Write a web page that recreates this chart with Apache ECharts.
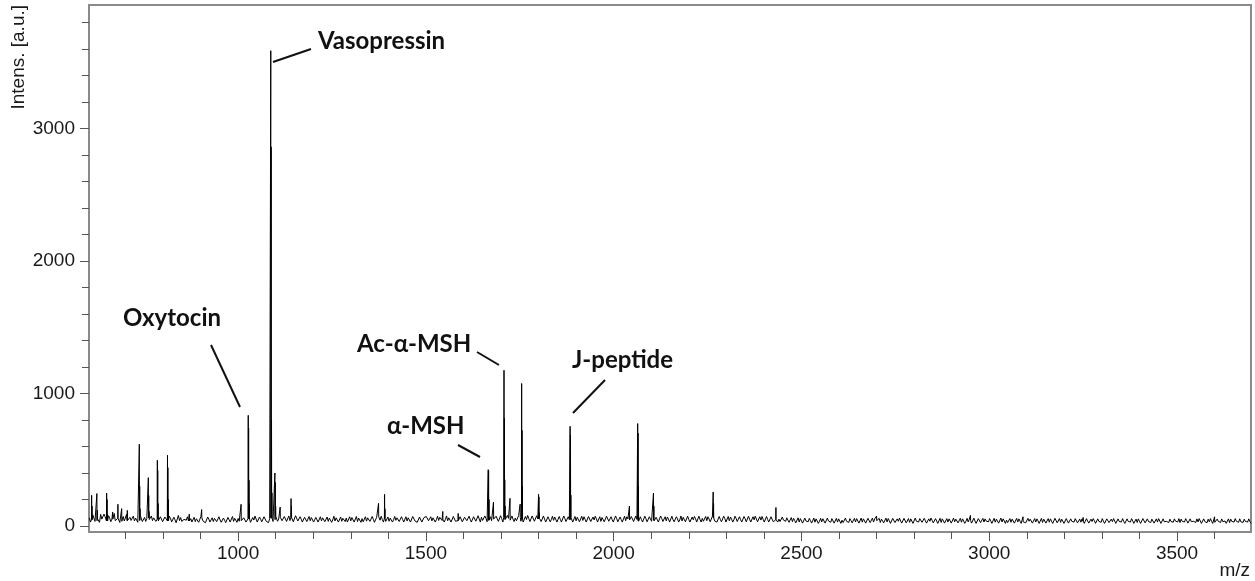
<!DOCTYPE html>
<html>
<head>
<meta charset="utf-8">
<script src="https://cdn.jsdelivr.net/npm/echarts@6/dist/echarts.min.js"></script>
<style>
html,body{margin:0;padding:0;background:#fff;}
#chart{width:1255px;height:581px;}
</style>
</head>
<body>
<div id="chart"></div>
<script>
// ---- data ----
const xLabelValues = [1000, 1500, 2000, 2500, 3000, 3500];
const xMinorTicks = [700, 800, 900, 1100, 1200, 1300, 1400, 1600, 1700, 1800, 1900, 2100, 2200, 2300, 2400, 2600, 2700, 2800, 2900, 3100, 3200, 3300, 3400, 3600];
const yLabelValues = [0, 1000, 2000, 3000];
const yMinorTicks = [200, 400, 600, 800, 1200, 1400, 1600, 1800, 2200, 2400, 2600, 2800, 3200, 3400, 3600, 3800];

// baseline noise, sampled every 6 m/z starting at 604 ...
const noiseStart = 604;
const noiseStep = 6;
const noiseIntens = [
  62, 48, 75, 40, 55, 88, 45, 70, 38, 60, 52, 95, 44, 58, 36, 72, 50, 41, 66, 47,
  39, 57, 43, 80, 46, 35, 62, 49, 41, 70, 52, 38, 55, 44, 63, 40, 58, 36, 47, 53,
  41, 35, 50, 44, 38, 56, 42, 33, 47, 39, 61, 45, 37, 52, 43, 34, 58, 40, 46, 36,
  44, 38, 53, 41, 35, 49, 57, 40, 36, 48, 42, 55, 39, 45, 62, 37, 51, 43, 58, 47,
  55, 60, 48, 72, 52, 65, 44, 58, 50, 41, 63, 46, 70, 43, 52, 38, 56, 45, 40, 49,
  37, 53, 44, 39, 58, 42, 35, 50, 46, 38, 55, 41, 36, 48, 60, 43, 39, 52, 45, 34,
  47, 56, 40, 37, 62, 45, 51, 38, 70, 44, 49, 58, 41, 36, 54, 47, 43, 60, 39, 50,
  45, 38, 57, 42, 64, 47, 40, 53, 36, 49, 68, 44, 39, 56, 48, 42, 75, 46, 51, 40,
  58, 44, 62, 49, 41, 55, 47, 72, 43, 50, 38, 60, 45, 53, 66, 48, 57, 44, 70, 52,
  48, 62, 45, 55, 68, 50, 58, 44, 52, 60, 47, 65, 53, 42, 49, 56, 44, 61, 47, 53,
  58, 46, 52, 40, 55, 48, 43, 60, 38, 50, 45, 57, 41, 48, 62, 44, 39, 54, 47, 42,
  50, 43, 58, 38, 46, 55, 41, 35, 52, 44, 60, 39, 47, 42, 56, 37, 49, 45, 40, 53,
  46, 58, 42, 50, 37, 48, 44, 55, 40, 62, 45, 38, 51, 43, 57, 46, 39, 52, 44, 48,
  41, 54, 46, 38, 60, 43, 50, 37, 47, 55, 42, 49, 58, 44, 40, 53, 45, 62, 48, 43,
  50, 41, 56, 45, 39, 52, 46, 58, 42, 48, 37, 55, 44, 50, 40, 47, 53, 38, 45, 51,
  43, 49, 38, 55, 42, 47, 52, 40, 45, 36, 44, 39, 33, 41, 37, 30, 42, 35, 38, 32,
  40, 34, 29, 43, 36, 31, 46, 33, 38, 28, 41, 35, 30, 39, 44, 32, 36, 27, 40, 34,
  31, 42, 35, 29, 38, 33, 48, 36, 30, 40, 34, 27, 43, 37, 31, 39, 35, 45, 29, 36,
  38, 32, 44, 35, 28, 41, 33, 37, 30, 46, 34, 39, 29, 36, 42, 31, 38, 33, 27, 40,
  35, 30, 43, 37, 32, 48, 34, 29, 39, 36, 31, 41, 33, 38, 28, 44, 35, 30, 37, 32,
  39, 34, 29, 42, 36, 31, 38, 45, 33, 28, 40, 35, 30, 37, 32, 43, 29, 36, 41, 33,
  30, 38, 35, 27, 40, 33, 29, 36, 31, 44, 34, 28, 37, 32, 39, 26, 35, 30, 42, 33,
  29, 36, 31, 38, 27, 34, 40, 30, 35, 28, 37, 32, 45, 29, 33, 38, 26, 34, 31, 36,
  28, 35, 30, 39, 33, 27, 36, 31, 42, 29, 34, 26, 37, 32, 30, 38, 28, 33, 35, 27,
  34, 29, 37, 31, 26, 35, 30, 40, 28, 33, 36, 27, 31, 38, 29, 34, 25, 32, 36, 28,
  31, 35, 27, 33, 38, 29, 26, 34, 30, 36, 28, 32, 27, 35, 30, 33
];
// ... and the in-between samples, every 6 m/z starting at 607
const noiseStartB = 607;
const noiseIntensB = [
  30, 85, 35, 70, 28, 52, 90, 25, 78, 33, 66, 40, 80, 27, 64, 38, 88, 30, 42, 75,
  60, 28, 72, 34, 65, 58, 30, 76, 62, 35, 29, 70, 33, 68, 30, 74, 31, 66, 25, 80,
  64, 22, 38, 70, 60, 30, 66, 55, 28, 72, 36, 25, 68, 30, 62, 58, 33, 70, 28, 60,
  26, 65, 30, 72, 58, 28, 36, 70, 62, 30, 68, 28, 64, 75, 30, 68, 32, 70, 35, 26,
  30, 34, 75, 36, 80, 40, 72, 35, 76, 68, 32, 78, 38, 70, 30, 66, 34, 72, 64, 30,
  65, 30, 70, 62, 33, 68, 60, 28, 74, 62, 30, 68, 58, 34, 30, 70, 64, 30, 72, 60,
  28, 32, 70, 62, 35, 72, 28, 66, 40, 74, 30, 35, 68, 60, 30, 72, 62, 34, 70, 30,
  70, 62, 30, 72, 38, 28, 68, 30, 64, 72, 40, 70, 62, 30, 74, 66, 42, 30, 76, 62,
  30, 72, 36, 28, 70, 32, 66, 40, 74, 30, 70, 36, 78, 30, 42, 76, 32, 72, 40, 30,
  74, 35, 78, 30, 42, 80, 32, 76, 34, 40, 78, 36, 30, 72, 80, 34, 76, 36, 78, 30,
  34, 76, 30, 70, 32, 74, 68, 30, 72, 30, 76, 34, 70, 78, 30, 72, 66, 32, 74, 70,
  30, 72, 34, 68, 74, 30, 70, 64, 32, 74, 36, 70, 30, 76, 32, 68, 30, 74, 70, 30,
  72, 34, 76, 30, 70, 30, 74, 32, 70, 36, 72, 66, 30, 76, 34, 70, 68, 30, 74, 32,
  70, 30, 76, 66, 32, 74, 30, 68, 72, 30, 74, 30, 36, 72, 70, 32, 74, 38, 30, 72,
  32, 74, 30, 72, 68, 30, 74, 34, 70, 30, 72, 32, 74, 30, 70, 74, 32, 70, 72, 30,
  72, 30, 70, 32, 74, 30, 34, 68, 30, 62, 28, 64, 58, 24, 62, 56, 22, 60, 26, 58,
  22, 60, 54, 20, 58, 55, 22, 60, 24, 56, 22, 58, 54, 20, 26, 60, 22, 56, 24, 58,
  56, 22, 60, 54, 22, 58, 26, 60, 54, 22, 58, 52, 24, 60, 56, 20, 58, 26, 54, 60,
  22, 58, 24, 56, 54, 20, 60, 22, 56, 28, 58, 22, 54, 60, 24, 56, 20, 58, 54, 22,
  56, 54, 22, 60, 52, 24, 58, 54, 20, 58, 52, 22, 60, 20, 56, 26, 58, 54, 22, 56,
  20, 58, 52, 22, 60, 54, 20, 26, 56, 52, 22, 58, 54, 20, 56, 24, 58, 52, 22, 56,
  54, 20, 58, 52, 22, 56, 54, 20, 58, 24, 56, 52, 20, 56, 22, 54, 20, 56, 24, 52,
  54, 20, 56, 22, 52, 56, 20, 54, 22, 56, 20, 54, 26, 52, 56, 20, 54, 22, 56, 20,
  54, 22, 56, 20, 52, 54, 20, 56, 24, 54, 20, 52, 22, 54, 56, 20, 54, 22, 20, 52,
  20, 54, 22, 56, 52, 20, 56, 22, 54, 20, 22, 54, 56, 20, 54, 22, 52, 56, 20, 54,
  52, 20, 54, 22, 20, 54, 52, 20, 56, 22, 54, 20, 52, 22, 54, 20
];

// peaks (isotope lines): m/z and intensity
const peakMz = [
  610, 611, 624, 625, 650, 651, 652, 666, 680, 690, 705,
  737, 738, 739, 761, 762, 763, 785, 786, 787, 812, 813, 814,
  870, 903, 1008,
  1027, 1028, 1029, 1030,
  1087, 1088, 1089, 1090,
  1098, 1099, 1100, 1112, 1141, 1142,
  1374, 1390, 1391, 1545, 1586,
  1666, 1667, 1668, 1680,
  1708, 1709, 1710, 1711, 1724, 1751,
  1755, 1756, 1757, 1800, 1801, 1802,
  1884, 1885, 1886,
  2042, 2064, 2065, 2066, 2106, 2107,
  2265, 2266, 2432,
  2700, 2950, 3090, 3250, 3600
];
const peakIntens = [
  232, 150, 245, 120, 249, 200, 90, 106, 164, 131, 118,
  617, 300, 130, 365, 230, 110, 496, 420, 170, 534, 440, 200,
  90, 124, 164,
  835, 740, 345, 170,
  3585, 2860, 800, 250,
  400, 330, 150, 143, 207, 150,
  171, 239, 130, 110, 95,
  425, 420, 200, 181,
  1175, 813, 350, 150, 209, 165,
  1075, 722, 300, 239, 220, 100,
  752, 685, 233,
  151, 773, 700, 300, 249, 150,
  257, 170, 140,
  75, 80, 70, 65, 70
];

// ---- build the spectrum trace ----
function noiseAt(m) {
  let i = Math.round((m - noiseStart) / noiseStep);
  i = Math.max(0, Math.min(noiseIntens.length - 1, i));
  return noiseIntens[i];
}
const nearPeak = m => peakMz.some(p => Math.abs(p - m) < 1.5);
const spectrum = [];
noiseIntens.forEach((v, i) => {
  const m = noiseStart + i * noiseStep;
  if (!nearPeak(m)) spectrum.push([m, v]);
});
noiseIntensB.forEach((v, i) => {
  const m = noiseStartB + i * noiseStep;
  if (!nearPeak(m)) spectrum.push([m, v]);
});
peakMz.forEach((m, i) => {
  const b = noiseAt(m);
  spectrum.push([m - 0.45, b], [m, peakIntens[i]], [m + 0.45, b]);
});
spectrum.sort((a, b) => a[0] - b[0]);

const xMin = 603, xMax = 3697, yMin = -45, yMax = 3930;
const labelFont = 'Liberation Sans, Arial, sans-serif';
const tickColor = '#555';
const plain = v => String(v);

const chart = echarts.init(document.getElementById('chart'), null, {renderer: 'canvas'});
chart.setOption({
  animation: false,
  backgroundColor: '#fff',
  grid: {
    left: 89, right: 4, top: 5, bottom: 49,
    show: true, borderColor: '#8a8a8a', borderWidth: 2,
    containLabel: false, outerBoundsMode: 'none'
  },
  xAxis: [
    {
      type: 'value', min: xMin, max: xMax, position: 'bottom',
      axisLine: {show: false, onZero: false},
      splitLine: {show: false},
      axisTick: {show: true, customValues: xLabelValues, length: 9, lineStyle: {color: tickColor, width: 1}},
      axisLabel: {customValues: xLabelValues, formatter: plain, margin: 12, fontSize: 19, fontFamily: labelFont, color: '#1a1a1a'}
    },
    {
      type: 'value', min: xMin, max: xMax, position: 'bottom',
      axisLine: {show: false, onZero: false},
      splitLine: {show: false},
      axisTick: {show: true, customValues: xMinorTicks, length: 7, lineStyle: {color: tickColor, width: 1}},
      axisLabel: {show: false}
    }
  ],
  yAxis: [
    {
      type: 'value', min: yMin, max: yMax, position: 'left',
      axisLine: {show: false, onZero: false},
      splitLine: {show: false},
      axisTick: {show: true, customValues: yLabelValues, length: 9, lineStyle: {color: tickColor, width: 1}},
      axisLabel: {customValues: yLabelValues, formatter: plain, margin: 14, fontSize: 19, fontFamily: labelFont, color: '#1a1a1a'}
    },
    {
      type: 'value', min: yMin, max: yMax, position: 'left',
      axisLine: {show: false, onZero: false},
      splitLine: {show: false},
      axisTick: {show: true, customValues: yMinorTicks, length: 7, lineStyle: {color: tickColor, width: 1}},
      axisLabel: {show: false}
    }
  ],
  series: [{
    type: 'line',
    xAxisIndex: 0, yAxisIndex: 0,
    data: spectrum,
    showSymbol: false, symbol: 'none',
    lineStyle: {color: '#000', width: 1},
    silent: true, clip: true
  }],
  graphic: [
    {type: 'text', x: 19, y: 5, rotation: Math.PI / 2,
     style: {text: 'Intens. [a.u.]', font: '19px Liberation Sans, Arial, sans-serif', fill: '#1a1a1a',
             align: 'right', verticalAlign: 'middle', textAlign: 'right', textVerticalAlign: 'middle'}},
    {type: 'text', x: 1250, y: 571,
     style: {text: 'm/z', font: '19px Liberation Sans, Arial, sans-serif', fill: '#1a1a1a',
             align: 'right', verticalAlign: 'middle', textAlign: 'right', textVerticalAlign: 'middle'}},
    // annotations
    {type: 'text', x: 318, y: 41, style: {text: 'Vasopressin', font: 'bold 24px Lato, sans-serif', fill: '#111', align: 'left', verticalAlign: 'middle', textAlign: 'left', textVerticalAlign: 'middle'}},
    {type: 'line', shape: {x1: 273, y1: 62, x2: 311, y2: 49}, style: {stroke: '#111', lineWidth: 2}},
    {type: 'text', x: 123, y: 318, style: {text: 'Oxytocin', font: 'bold 24px Lato, sans-serif', fill: '#111', align: 'left', verticalAlign: 'middle', textAlign: 'left', textVerticalAlign: 'middle'}},
    {type: 'line', shape: {x1: 211, y1: 345, x2: 240, y2: 407}, style: {stroke: '#111', lineWidth: 2}},
    {type: 'text', x: 357, y: 344, style: {text: 'Ac-α-MSH', font: 'bold 24px Lato, sans-serif', fill: '#111', align: 'left', verticalAlign: 'middle', textAlign: 'left', textVerticalAlign: 'middle'}},
    {type: 'line', shape: {x1: 477, y1: 352, x2: 499, y2: 365}, style: {stroke: '#111', lineWidth: 2}},
    {type: 'text', x: 387, y: 426, style: {text: 'α-MSH', font: 'bold 24px Lato, sans-serif', fill: '#111', align: 'left', verticalAlign: 'middle', textAlign: 'left', textVerticalAlign: 'middle'}},
    {type: 'line', shape: {x1: 458, y1: 445, x2: 480, y2: 457}, style: {stroke: '#111', lineWidth: 2}},
    {type: 'text', x: 572, y: 360, style: {text: 'J-peptide', font: 'bold 24px Lato, sans-serif', fill: '#111', align: 'left', verticalAlign: 'middle', textAlign: 'left', textVerticalAlign: 'middle'}},
    {type: 'line', shape: {x1: 605, y1: 380, x2: 573, y2: 413}, style: {stroke: '#111', lineWidth: 2}}
  ]
});
</script>
</body>
</html>
